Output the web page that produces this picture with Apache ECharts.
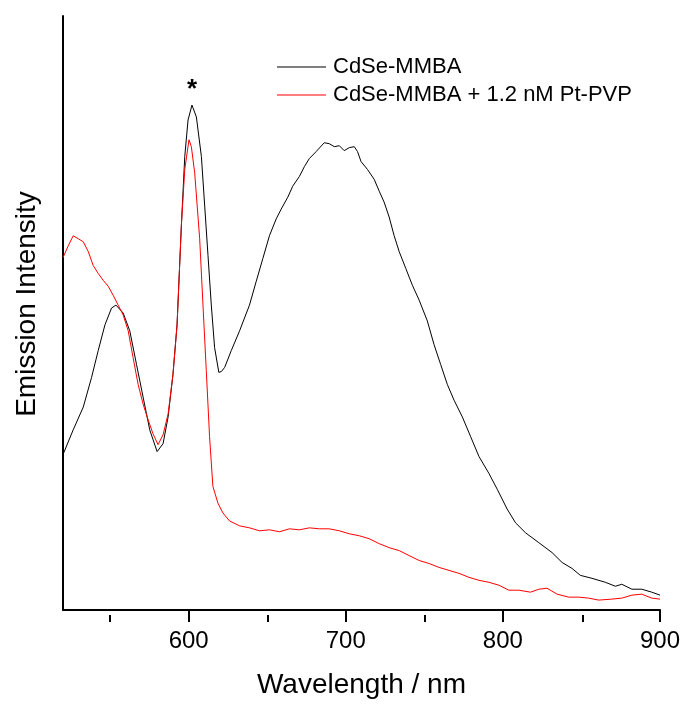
<!DOCTYPE html>
<html>
<head>
<meta charset="utf-8">
<script src="https://cdn.jsdelivr.net/npm/echarts@6/dist/echarts.min.js"></script>
<style>
html,body{margin:0;padding:0;background:#fff;}
#chart{width:683px;height:704px;}
</style>
</head>
<body>
<div id="chart"></div>
<script>
// Wavelength (nm) and emission intensity (arb. units)
const blackWavelength = [520,526.5,532.9,538.2,542.4,546.7,550.9,553.7,558.3,562.5,566.8,571,575.2,579.9,583.7,586.9,590,592.6,595.4,597.5,599.6,602.1,604.9,608.1,610.2,612.3,614.4,616.5,619.2,620.9,622.9,627.1,632.4,638.7,643,647.2,651.4,655.7,658.9,663.1,666.2,670.5,673.7,676.8,681.1,686.3,689.5,692.7,695.9,699,702.2,705.4,707.5,709.7,713.8,718.1,721.3,724.4,727.6,730.8,734,738.2,742.4,746.7,751.9,756.2,760.4,764.6,768.9,774.2,779.5,784.8,791.1,796.4,802.7,808.1,814.4,822.9,831.3,837.7,844,849.3,856.7,865.2,871.6,875.7,882.1,888.4,894.8,900];
const blackIntensity = [157,182,205,235,262,288,305,308,300,282,248,215,182,160,168,195,238,288,390,458,495,510,498,458,408,358,308,265,240,241,245,262,282,308,332,355,378,395,405,417,428,438,448,456,463,472,471,468,469,464,467,468,463,453,445,435,423,412,397,378,362,345,328,313,292,268,248,228,212,195,175,155,138,122,102,88,78,68,58,48,42,35,32,28,24,26,21,21,18,15];

const redWavelength = [520,523.4,526.5,529.7,532.9,536.1,539.2,542.4,545.6,548.8,551.9,555.1,558.3,561.5,564.6,567.8,571,574.2,577.3,580.5,583.7,586.9,590,592.6,595.4,597.5,600.2,601.7,603.8,607,609.1,611.2,613.3,615.4,618.6,621.8,626,632.4,638.7,645.1,651.4,657.8,664.1,670.5,676.8,683.2,689.5,695.9,702.2,708.6,714.9,721.3,727.6,734,740.3,746.7,753,759.4,765.7,772.1,778.4,784.8,791.1,797.5,803.8,810.2,817.6,822.9,828.1,834.5,841.9,848.3,854.6,861,869.4,875.7,882.1,888.4,894.8,900];
const redIntensity = [356,368,378,375,372,362,348,340,333,327,318,308,298,282,255,228,208,192,178,167,177,198,238,288,390,445,475,468,442,375,308,242,175,125,108,98,90,85,83,80,81,79,82,81,83,82,82,80,77,75,72,67,63,60,55,50,47,43,40,37,33,30,28,25,20,20,18,21,22,16,13,13,12,10,11,12,15,16,12,11];

const seriesNames = ['CdSe-MMBA', 'CdSe-MMBA + 1.2 nM Pt-PVP'];
const majorTicks = [600, 700, 800, 900];
const minorTicks = [550, 650, 750, 850];
const xTitle = 'Wavelength / nm';
const yTitle = 'Emission Intensity';
const peakLabel = '*';

const FONT = 'Liberation Sans, Arial, sans-serif';
const zip = (xs, ys) => xs.map((x, i) => [x, ys[i]]);
const gridRect = {left: 63, right: 22, top: 16, bottom: 89};

const chart = echarts.init(document.getElementById('chart'), null, {renderer: 'canvas'});
chart.setOption({
  animation: false,
  backgroundColor: '#fff',
  grid: [Object.assign({}, gridRect), Object.assign({}, gridRect)],
  legend: {
    orient: 'vertical', left: 277, top: 56, padding: 0,
    icon: 'rect', itemWidth: 49, itemHeight: 1, itemGap: 6,
    textStyle: {fontFamily: FONT, fontSize: 22, color: '#000', padding: [0, 0, 0, 2]},
    data: seriesNames
  },
  xAxis: [{
    type: 'value', gridIndex: 0, min: 520, max: 900, position: 'bottom',
    name: xTitle, nameLocation: 'middle', nameGap: 61,
    nameTextStyle: {fontFamily: FONT, fontSize: 28, color: '#000'},
    axisLine: {show: true, onZero: false, lineStyle: {color: '#000', width: 2}},
    axisTick: {show: true, length: 12, customValues: majorTicks, lineStyle: {color: '#000', width: 2}},
    axisLabel: {show: true, customValues: majorTicks, margin: 19, fontFamily: FONT, fontSize: 24, color: '#000'},
    splitLine: {show: false}
  }, {
    type: 'value', gridIndex: 1, min: 520, max: 900, position: 'bottom',
    axisLine: {show: false, onZero: false},
    axisTick: {show: true, inside: false, length: 7, customValues: minorTicks, lineStyle: {color: '#000', width: 2}},
    axisLabel: {show: false},
    splitLine: {show: false}
  }],
  yAxis: [{
    type: 'value', gridIndex: 0, min: 0, max: 600,
    name: yTitle, nameLocation: 'middle', nameGap: 22,
    nameTextStyle: {fontFamily: FONT, fontSize: 28, color: '#000', padding: [0, 0, 0, 18]},
    axisLine: {show: true, onZero: false, lineStyle: {color: '#000', width: 2}},
    axisTick: {show: false}, axisLabel: {show: false}, splitLine: {show: false}
  }, {
    type: 'value', gridIndex: 1, min: 0, max: 600, show: false
  }],
  series: [{
    name: seriesNames[0], type: 'line', symbol: 'none', xAxisIndex: 0, yAxisIndex: 0,
    data: zip(blackWavelength, blackIntensity),
    lineStyle: {color: '#000', width: 1}, itemStyle: {color: '#000'},
    markPoint: {
      symbol: 'circle', symbolSize: 1, itemStyle: {color: 'rgba(0,0,0,0)'},
      label: {show: true, position: 'top', formatter: peakLabel, distance: 2, fontFamily: FONT, fontSize: 26, fontWeight: 'bold', color: '#000'},
      data: [{coord: [602.1, 510]}]
    },
    z: 2
  }, {
    name: seriesNames[1], type: 'line', symbol: 'none', xAxisIndex: 0, yAxisIndex: 0,
    data: zip(redWavelength, redIntensity),
    lineStyle: {color: '#ff0000', width: 1}, itemStyle: {color: '#ff0000'},
    z: 3
  }]
});
</script>
</body>
</html>
